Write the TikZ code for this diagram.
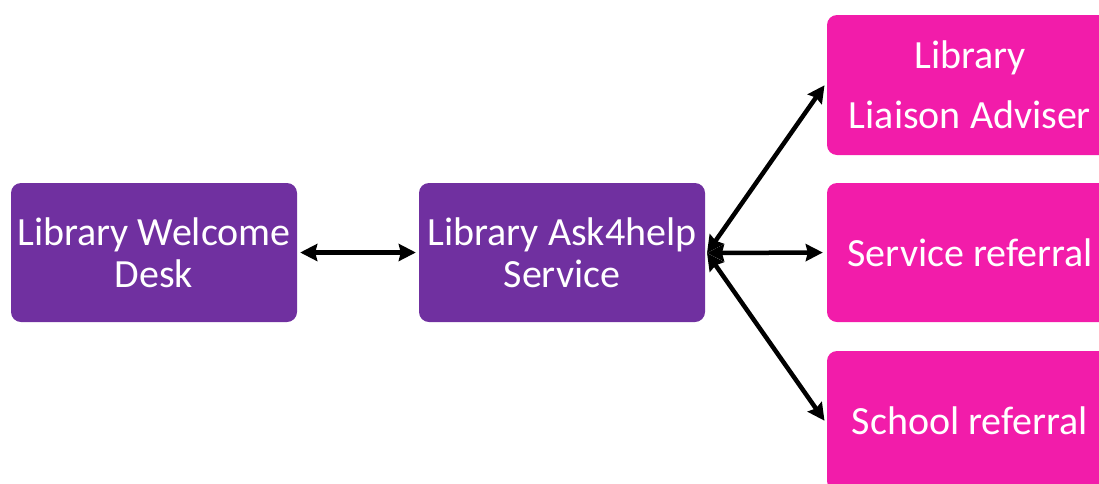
\documentclass[tikz,border=0pt]{standalone}
\usepackage{fontspec}
\setmainfont{Carlito}
\usetikzlibrary{arrows.meta}
\definecolor{purp}{HTML}{7030A0}
\definecolor{pinkc}{HTML}{F21CAA}
\begin{document}
\begin{tikzpicture}[x=1pt,y=-1pt,
  box/.style={rounded corners=10pt, minimum width=286pt, minimum height=139pt, inner sep=0pt, text=white, align=center, font=\fontsize{40}{42}\selectfont},
  pbox/.style={box, fill=purp},
  kbox/.style={box, fill=pinkc},
  link/.style={line width=4.5pt, {Stealth[length=17pt,width=17pt,inset=2pt]}-{Stealth[length=17pt,width=17pt,inset=2pt]}}]
\useasboundingbox (0,0) rectangle (1099,483);
\begin{scope}
\clip (0,0) rectangle (1099,483);
\node[pbox] (welcome) at (154,252.5) {Library Welcome\\Desk};
\node[pbox] (ask) at (562,252.5) {Library Ask4help\\Service};
\node[kbox, minimum height=140pt] (liaison) at (970,85) {Library\\[18pt]Liaison Adviser};
\node[kbox] (service) at (970,252.5) {Service referral};
\node[kbox, minimum height=140pt] (school) at (970,421) {School referral};
\end{scope}
\coordinate (hub) at (707,253);
\draw[link, shorten <=3pt, shorten >=3pt] (welcome.east) -- (ask.west |- welcome.east);
\draw[link, shorten >=4pt] (hub) -- ([yshift=3pt]liaison.west);
\draw[link, shorten >=4pt] (hub) -- (service.west);
\draw[link, shorten >=4pt] (hub) -- ([yshift=-3pt]school.west);
\end{tikzpicture}
\end{document}
